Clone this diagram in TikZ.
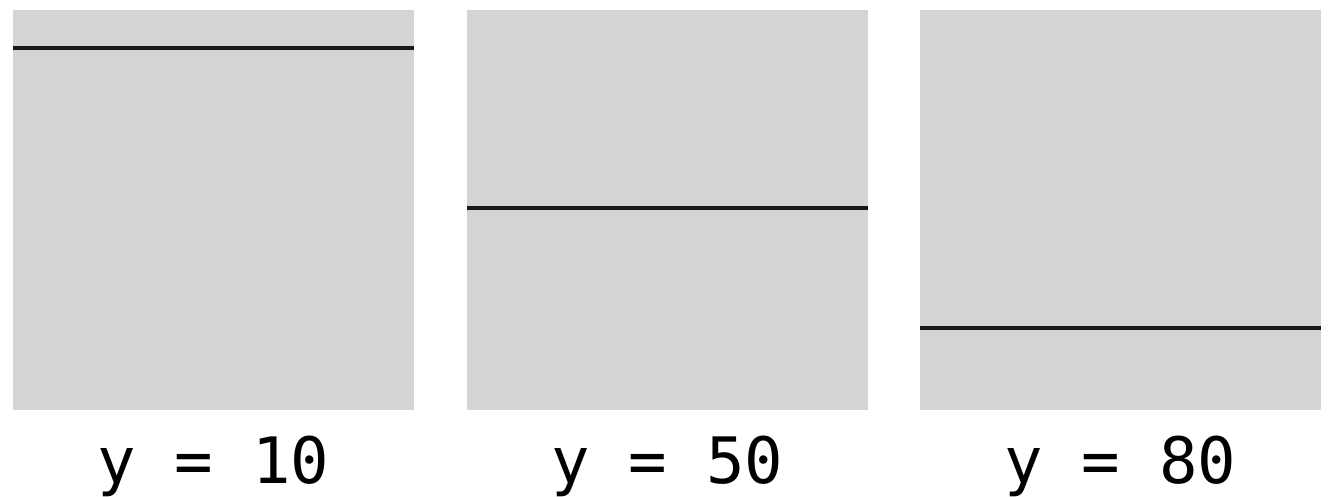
\documentclass[tikz,border=0pt]{standalone}
\usepackage{fontspec}
\newfontfamily\labelfont{DejaVu Sans Mono}
\usetikzlibrary{positioning,calc}
\definecolor{panelgray}{HTML}{D4D4D4}
\definecolor{linedark}{HTML}{181818}

\begin{document}
\begin{tikzpicture}[x=1pt,y=-1pt,
    panel/.style={fill=panelgray,draw=none,minimum width=401pt,minimum height=400pt,
                  inner sep=0pt,outer sep=0pt},
    level/.style={draw=linedark,line width=3.2pt},
    caption/.style={font=\labelfont\fontsize{64}{72}\selectfont,anchor=base,inner sep=0pt}]
  \useasboundingbox (0,0) rectangle (1332,497);
  % one panel per y value
  \foreach \i/\x/\v in {1/13/10,2/467/50,3/920/80}{
    \node[panel,anchor=north west] (box\i) at (\x,10) {};
    \coordinate (lft\i) at ($(box\i.north west)+(0,4*\v-2)$);
    \coordinate (rgt\i) at ($(box\i.north east)+(0,4*\v-2)$);
    \draw[level] (lft\i) -- (rgt\i);
    \node[caption] (lab\i) at ($(box\i.south)+(0,73)$) {y = \v};
  }
\end{tikzpicture}
\end{document}
